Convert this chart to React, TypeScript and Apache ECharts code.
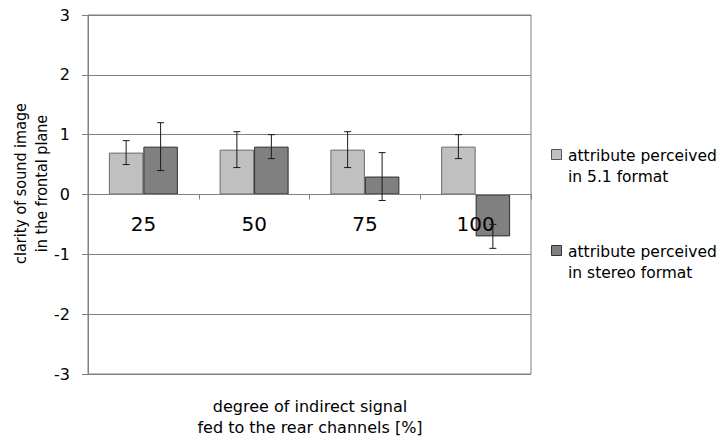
import React, { useEffect, useRef } from "react";
import * as echarts from "echarts";

const categories = ["25", "50", "75", "100"];
const series51 = [0.7, 0.75, 0.75, 0.8];
const err51 = [0.2, 0.3, 0.3, 0.2];
const seriesStereo = [0.8, 0.8, 0.3, -0.7];
const errStereo = [0.4, 0.2, 0.4, 0.2];
const yTicks = [-3, 3, 1];
const legendNames = ["attribute perceived\nin 5.1 format", "attribute perceived\nin stereo format"];
const legendColors = ["#c0c0c0", "#808080"];

const FONT = "'DejaVu Sans', sans-serif";
const FONT_C = "'DejaVu Sans Condensed', 'DejaVu Sans', sans-serif";
const BAR_GAP_PCT = 0.377;

function errorSeries(name: string, values: number[], errs: number[], side: number) {
  return {
    type: "custom",
    name: name + "_err",
    silent: true,
    z: 10,
    data: values.map((v, i) => [i, v - errs[i], v + errs[i]]),
    renderItem: (params: any, api: any) => {
      const idx = api.value(0);
      const lo = api.coord([idx, api.value(1)]);
      const hi = api.coord([idx, api.value(2)]);
      const catW = api.size([1, 0])[0];
      const barW = (catW * (1 - BAR_GAP_PCT)) / 2;
      const x = lo[0] + (side * barW) / 2;
      const cap = 3.5;
      const style = { stroke: "#1a1a1a", lineWidth: 1 };
      return {
        type: "group",
        children: [
          { type: "line", shape: { x1: x, y1: lo[1], x2: x, y2: hi[1] }, style },
          { type: "line", shape: { x1: x - cap, y1: lo[1], x2: x + cap, y2: lo[1] }, style },
          { type: "line", shape: { x1: x - cap, y1: hi[1], x2: x + cap, y2: hi[1] }, style },
        ],
      };
    },
  };
}

export default function App() {
  const ref = useRef<HTMLDivElement>(null);
  useEffect(() => {
    document.body.style.margin = "0";
    const chart = echarts.init(ref.current!, undefined, { renderer: "svg" });
    const legendGraphics: any[] = [];
    legendNames.forEach((name, i) => {
      const y0 = 149 + i * 96;
      legendGraphics.push({
        type: "rect",
        shape: { x: 551.5, y: y0 + 0.5, width: 10, height: 10 },
        style: { fill: legendColors[i], stroke: i === 0 ? "#555" : "#333", lineWidth: 1 },
      });
      legendGraphics.push({
        type: "text",
        x: 568,
        y: y0 - 4,
        style: { text: name, font: `15.5px ${FONT}`, lineHeight: 21, fill: "#000", textAlign: "left", textVerticalAlign: "top" },
      });
    });
    chart.setOption({
      animation: false,
      backgroundColor: "#ffffff",
      textStyle: { fontFamily: FONT },
      grid: {
        left: 88,
        right: 193,
        top: 15,
        bottom: 67,
        containLabel: false,
        outerBoundsMode: "none",
        show: true,
        borderColor: "#808080",
        borderWidth: 1,
      },
      xAxis: {
        type: "category",
        data: categories,
        offset: -179.5,
        z: 5,
        axisLine: { onZero: false, lineStyle: { color: "#808080", width: 1 } },
        axisTick: { show: true, length: 5, inside: false, lineStyle: { color: "#808080" } },
        axisLabel: { fontFamily: FONT, fontSize: 20, color: "#000", margin: 19 },
        splitLine: { show: false },
      },
      yAxis: {
        type: "value",
        min: yTicks[0],
        max: yTicks[1],
        interval: yTicks[2],
        name: "clarity of sound image\nin the frontal plane",
        nameLocation: "middle",
        nameRotate: 90,
        nameGap: 36,
        nameMoveOverlap: false,
        nameTextStyle: { fontFamily: FONT_C, fontSize: 16, color: "#000", lineHeight: 21, padding: [0, 0, 0, 22] },
        axisLine: { show: true, lineStyle: { color: "#808080", width: 1 } },
        axisTick: { show: true, length: 6, lineStyle: { color: "#808080" } },
        axisLabel: { fontFamily: FONT, fontSize: 16, color: "#000", margin: 18 },
        splitLine: { show: true, lineStyle: { color: "#808080", width: 1 } },
      },
      graphic: [
        {
          type: "text",
          x: 310,
          y: 396,
          style: {
            text: "degree of indirect signal\nfed to the rear channels [%]",
            textAlign: "center",
            font: `16px ${FONT}`,
            lineHeight: 21,
            fill: "#000",
          },
        },
        ...legendGraphics,
      ],
      series: [
        {
          type: "bar",
          name: legendNames[0],
          data: series51,
          barGap: "0%",
          barCategoryGap: (BAR_GAP_PCT * 100).toFixed(1) + "%",
          itemStyle: { color: legendColors[0], borderColor: "#6a6a6a", borderWidth: 1 },
        },
        {
          type: "bar",
          name: legendNames[1],
          data: seriesStereo,
          barGap: "0%",
          barCategoryGap: (BAR_GAP_PCT * 100).toFixed(1) + "%",
          itemStyle: { color: legendColors[1], borderColor: "#2e2e2e", borderWidth: 1 },
        },
        errorSeries("a", series51, err51, -1),
        errorSeries("b", seriesStereo, errStereo, 1),
      ],
    });
    return () => chart.dispose();
  }, []);
  return <div ref={ref} style={{ width: 724, height: 441 }} />;
}
